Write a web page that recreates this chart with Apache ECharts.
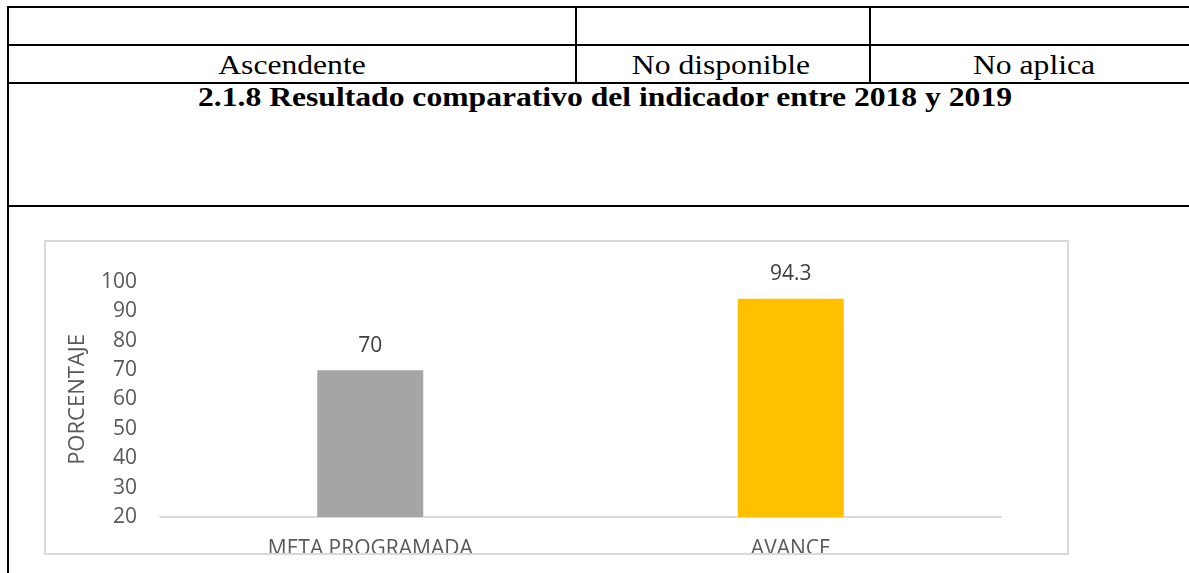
<!DOCTYPE html>
<html>
<head>
<meta charset="utf-8">
<script src="https://cdn.jsdelivr.net/npm/echarts@6/dist/echarts.min.js"></script>
<style>
    html, body { margin: 0; padding: 0; background: #fff; }
    body { width: 1189px; height: 573px; position: relative; overflow: hidden; }
    .ln { position: absolute; background: #000; }
    .txt { position: absolute; font-family: "Liberation Serif", "DejaVu Serif", serif; color: #000;
           white-space: nowrap; line-height: 1; font-size: 27.5px;
           transform: translateX(-57.5%) scaleX(1.15); transform-origin: 0 0; }
    #chart { position: absolute; left: 0; top: 0; width: 1189px; height: 573px; }
</style>
</head>
<body>
<!-- tabla -->
<div class="ln" style="left:7px; top:6px; width:1182px; height:2px;"></div>
<div class="ln" style="left:7px; top:44px; width:1182px; height:2px;"></div>
<div class="ln" style="left:7px; top:82px; width:1182px; height:2px;"></div>
<div class="ln" style="left:7px; top:205px; width:1182px; height:2px;"></div>
<div class="ln" style="left:7px; top:6px; width:2px; height:567px;"></div>
<div class="ln" style="left:575px; top:6px; width:2px; height:78px;"></div>
<div class="ln" style="left:869px; top:6px; width:2px; height:78px;"></div>

<div class="txt" style="left:292px; top:51px;">Ascendente</div>
<div class="txt" style="left:721px; top:51px;">No disponible</div>
<div class="txt" style="left:1034px; top:51px;">No aplica</div>
<div class="txt" style="left:605px; top:83px; font-weight:bold;">2.1.8 Resultado comparativo del indicador entre 2018 y 2019</div>

<div id="chart"></div>

<script type="text/javascript">
    // datos
    var categorias = ['META PROGRAMADA', 'AVANCE'];
    var valores = [70, 94.3];
    var colores = ['#a5a5a5', '#ffc000'];
    var ejeY = { min: 20, max: 100, intervalo: 10 };
    var nombreEjeY = 'PORCENTAJE';

    var grafica = echarts.init(document.getElementById('chart'));

    var datos = valores.map(function (v, i) {
        return { value: v, itemStyle: { color: colores[i] } };
    });

    var opcion = {
        backgroundColor: 'transparent',
        animation: false,
        textStyle: { fontFamily: 'Open Sans' },
        grid: {
            left: 160,
            right: 188,
            top: 282,
            bottom: 56,
            containLabel: false,
            outerBoundsMode: 'none'
        },
        xAxis: {
            type: 'category',
            data: categorias,
            axisLine: { lineStyle: { color: '#d9d9d9', width: 2 } },
            axisTick: { show: false },
            axisLabel: { color: '#595959', fontSize: 21, margin: 22 }
        },
        yAxis: {
            type: 'value',
            min: ejeY.min,
            max: ejeY.max,
            interval: ejeY.intervalo,
            name: nombreEjeY,
            nameLocation: 'middle',
            nameRotate: 90,
            nameGap: 71,
            nameTextStyle: { color: '#595959', fontSize: 22 },
            axisLine: { show: false },
            axisTick: { show: false },
            splitLine: { show: false },
            axisLabel: { color: '#595959', fontSize: 21, margin: 23 }
        },
        series: [{
            type: 'bar',
            data: datos,
            barWidth: 106,
            label: {
                show: true,
                position: 'top',
                distance: 14,
                color: '#404040',
                fontSize: 21
            }
        }],
        graphic: [
            // tapa la parte baja de las etiquetas (recorte del marco)
            { type: 'rect', z: 100, shape: { x: 40, y: 554, width: 1035, height: 20 }, style: { fill: '#fff' } },
            // marco del grafico
            { type: 'rect', z: 101, shape: { x: 45, y: 241, width: 1023, height: 313 },
              style: { fill: 'none', stroke: '#d9d9d9', lineWidth: 2 } }
        ]
    };

    grafica.setOption(opcion);
</script>
</body>
</html>
